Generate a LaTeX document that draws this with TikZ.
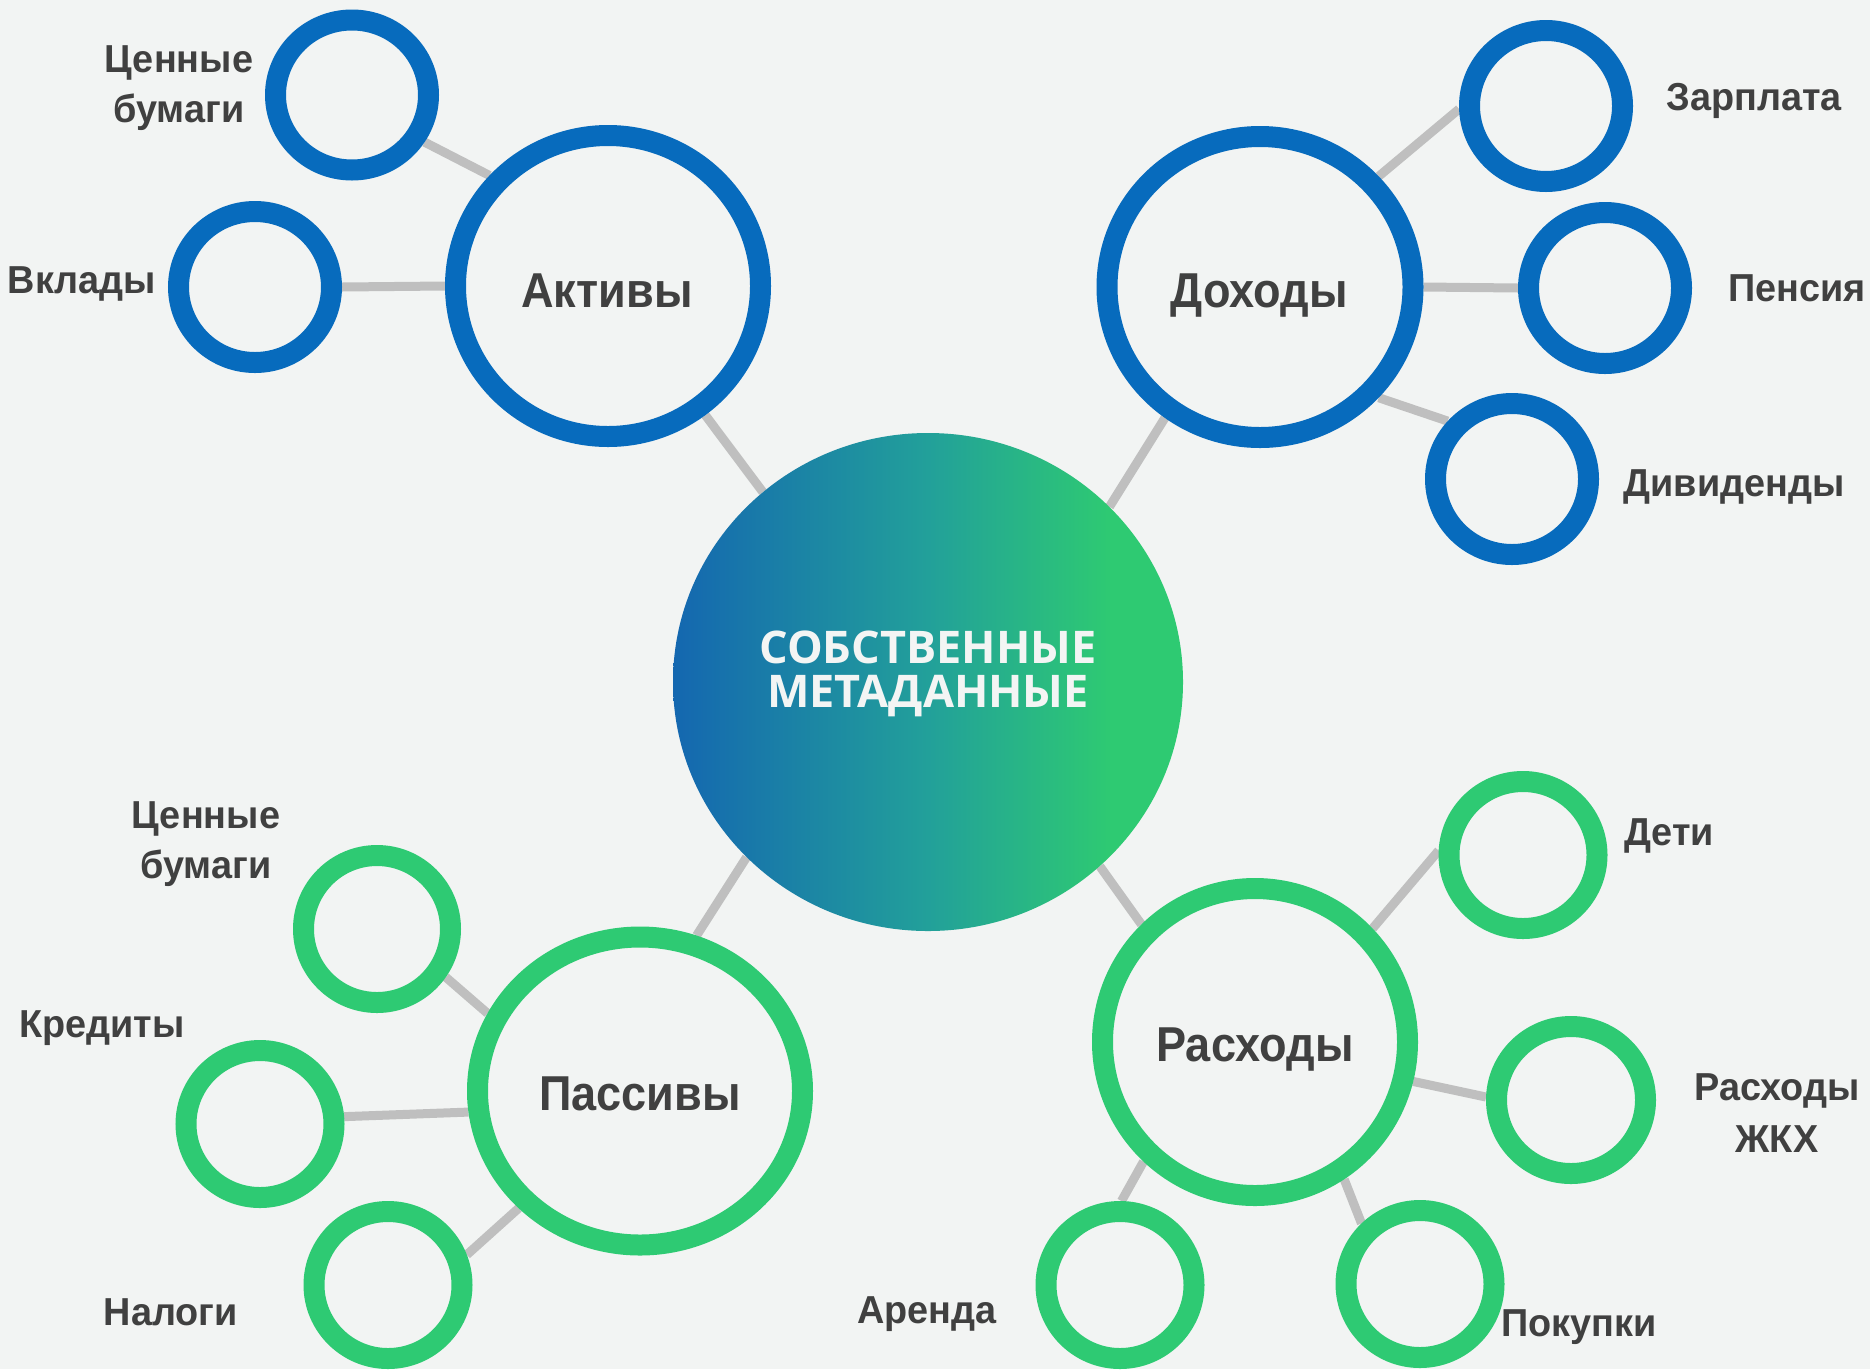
\documentclass[tikz,border=0pt]{standalone}
\usepackage{fontspec}
\setmainfont{Liberation Sans}
\newfontfamily\smallfont[FakeStretch=0.97]{Liberation Sans}
\newfontfamily\bigfont[FakeStretch=0.92]{Liberation Sans}
\newfontfamily\ctrfont{Open Sans}
\usetikzlibrary{shapes.geometric}
\definecolor{bgc}{HTML}{F2F4F3}
\definecolor{cblue}{HTML}{076BBD}
\definecolor{cgreen}{HTML}{2ECA73}
\definecolor{gblue}{HTML}{1467B0}
\definecolor{gteal}{HTML}{22A09A}
\definecolor{ggreen}{HTML}{2ECA72}
\definecolor{cgray}{HTML}{BFBFBF}
\definecolor{ctext}{HTML}{404040}
\definecolor{cwhite}{HTML}{F3F5F4}
\pgfdeclarelayer{background}
\pgfdeclarelayer{backdrop}
\pgfsetlayers{backdrop,background,main}
\pgfdeclarehorizontalshading{cshade}{100bp}{color(0bp)=(gblue); color(25bp)=(gblue); color(50bp)=(gteal); color(68bp)=(ggreen); color(100bp)=(ggreen)}
\tikzset{
  ring/.style={ellipse, draw, line width=21pt, fill=bgc, inner sep=0pt},
  bring/.style={ring, draw=cblue},
  gring/.style={ring, draw=cgreen},
  link/.style={draw=cgray, line width=9pt},
  lbl/.style={font=\smallfont\bfseries\fontsize{39}{50}\selectfont, text=ctext, inner sep=0pt, anchor=base, align=center},
  biglbl/.style={font=\bigfont\bfseries\fontsize{49}{55}\selectfont, text=ctext, inner sep=0pt, anchor=base},
  hub/.style={ellipse, shading=cshade, inner sep=0pt},
  hubtext/.style={text=cwhite, align=center, inner sep=0pt, anchor=base,
    font=\ctrfont\bfseries\fontsize{45}{44}\selectfont}
}
\begin{document}
\begin{tikzpicture}[x=1pt,y=-1pt]
\begin{pgfonlayer}{backdrop}
\fill[bgc] (0,0) rectangle (1870,1369);
\end{pgfonlayer}
\useasboundingbox (0,0) rectangle (1870,1369);

% hub
\node[hub, minimum width=510pt, minimum height=498pt] (c) at (928,682) {};
\node[hubtext] (tHub) at (928,707) {СОБСТВЕННЫЕ\\МЕТАДАННЫЕ};

% top-left group
\node[bring, minimum width=305pt, minimum height=301pt] (aktiv) at (608,286) {};
\node[bring, minimum width=153pt, minimum height=150pt] (cb1) at (352,95) {};
\node[bring, minimum width=153pt, minimum height=151pt] (vkl) at (255,287) {};

% top-right group
\node[bring, minimum width=306pt, minimum height=301pt] (doh) at (1260,287) {};
\node[bring, minimum width=153pt, minimum height=151pt] (zarp) at (1546,106) {};
\node[bring, minimum width=153pt, minimum height=151pt] (pens) at (1605,288) {};
\node[bring, minimum width=153pt, minimum height=151pt] (div) at (1512,479) {};

% bottom-left group
\node[gring, minimum width=325pt, minimum height=308pt] (pass) at (640,1091) {};
\node[gring, minimum width=147pt, minimum height=147pt] (cb2) at (377,929) {};
\node[gring, minimum width=148pt, minimum height=147pt] (kred) at (260,1124) {};
\node[gring, minimum width=148pt, minimum height=147pt] (nal) at (388,1285) {};

% bottom-right group
\node[gring, minimum width=305pt, minimum height=307pt] (rash) at (1255,1042) {};
\node[gring, minimum width=148pt, minimum height=147pt] (deti) at (1523,855) {};
\node[gring, minimum width=149pt, minimum height=147pt] (zhkh) at (1571,1100) {};
\node[gring, minimum width=148pt, minimum height=147pt] (pok) at (1420,1284) {};
\node[gring, minimum width=148pt, minimum height=147pt] (aren) at (1120,1285) {};

% connectors
\begin{pgfonlayer}{background}
\draw[link] (cb1.-33) -- (aktiv.137);
\draw[link] (vkl.0) -- (aktiv.180);
\draw[link] (aktiv.-53) -- (c.131);
\draw[link] (doh.234) -- (c.44);
\draw[link] (doh.43) -- (zarp.182);
\draw[link] (doh.0) -- (pens.180);
\draw[link] (doh.-43.5) -- (div.138);
\draw[link] (pass.70) -- (c.224);
\draw[link] (cb2.-35) -- (pass.153);
\draw[link] (kred.5) -- (pass.187);
\draw[link] (nal.21) -- (pass.224);
\draw[link] (rash.134) -- (c.-47);
\draw[link] (rash.44.5) -- (deti.177);
\draw[link] (rash.-14.5) -- (zhkh.178);
\draw[link] (rash.-57) -- (pok.134);
\draw[link] (rash.-133) -- (aren.89);
\end{pgfonlayer}

% labels
\node[biglbl] (tAktiv) at (607,307) {Активы};
\node[biglbl] (tDoh) at (1259,307) {Доходы};
\node[biglbl] (tPass) at (640,1110) {Пассивы};
\node[biglbl] (tRash) at (1255,1061) {Расходы};

\node[lbl] (tCb1) at (179,122) {Ценные\\бумаги};
\node[lbl] (tVkl) at (82,293) {Вклады};
\node[lbl] (tZarp) at (1754,110) {Зарплата};
\node[lbl] (tPens) at (1797,301) {Пенсия};
\node[lbl] (tDiv) at (1734,496) {Дивиденды};
\node[lbl] (tCb2) at (206,878) {Ценные\\бумаги};
\node[lbl] (tKred) at (102,1037) {Кредиты};
\node[lbl] (tNal) at (171,1325) {Налоги};
\node[lbl] (tDeti) at (1669,845) {Дети};
\node[lbl, font=\smallfont\bfseries\fontsize{39}{52}\selectfont] (tZhkh) at (1777,1152) {Расходы\\ЖКХ};
\node[lbl] (tPok) at (1579,1336) {Покупки};
\node[lbl] (tAren) at (927,1323) {Аренда};
\end{tikzpicture}
\end{document}
